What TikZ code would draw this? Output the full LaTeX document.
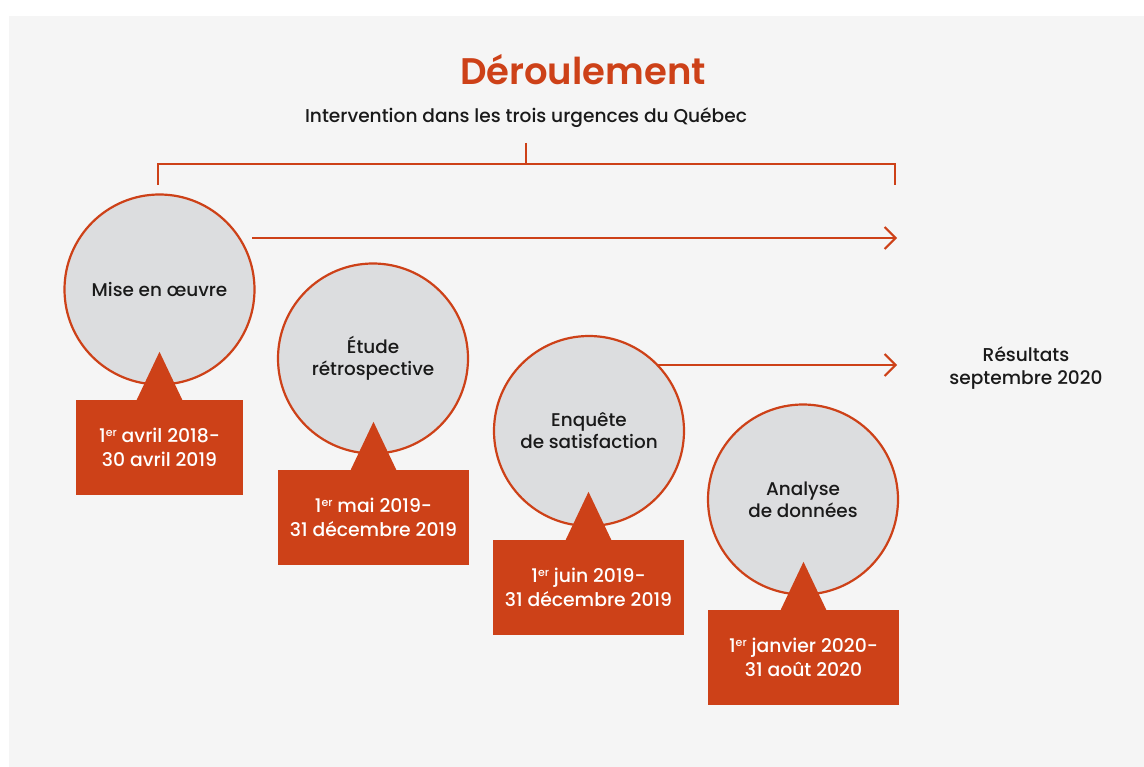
\documentclass[tikz,border=0pt]{standalone}
\usepackage{fontspec}
\setmainfont{Poppins Medium}[BoldFont=Poppins SemiBold]
\usetikzlibrary{arrows.meta}
\definecolor{rouille}{HTML}{CD4118}
\definecolor{panneau}{HTML}{F5F5F5}
\definecolor{disque}{HTML}{DCDDDF}
\definecolor{encre}{HTML}{1A1A1A}
\newcommand{\ieme}[1]{\raisebox{0.55ex}{\fontsize{11}{11}\selectfont #1}}
\tikzset{
  etape/.style={circle, draw=rouille, line width=2.2pt, fill=disque,
    minimum size=190pt, inner sep=0pt, align=center, text=encre,
    font=\fontsize{18.4}{22}\selectfont},
  periode/.style={rectangle, fill=rouille, inner sep=0pt, minimum height=95pt,
    align=center, text=white, font=\fontsize{18.8}{24}\selectfont},
  pointe/.style={fill=rouille, draw=none},
  trait/.style={draw=rouille, line width=2pt},
  fleche/.style={trait, -{Straight Barb[length=11pt, width=22pt, line width=2pt]}},
  legende/.style={align=center, text=encre, font=\fontsize{18.6}{23}\selectfont}
}
\begin{document}
\begin{tikzpicture}[x=1pt, y=-1pt]
  % canvas and panel
  \useasboundingbox (0,0) rectangle (1144,767);
  \fill[white] (0,0) rectangle (1144,767);
  \fill[panneau] (9,16) rectangle (1144,767);

  % headings
  \node[text=rouille, font=\fontsize{37}{40}\selectfont\bfseries] (titre) at (583,70) {Déroulement};
  \node[legende] (sous) at (526,117.5) {Intervention dans les trois urgences du Québec};

  % bracket spanning the intervention
  \coordinate (bg) at (158,185);
  \coordinate (bd) at (895,185);
  \coordinate (bm) at (526,143);
  \draw[trait] (bg) |- (bd |- 0,164) -- (bd);
  \draw[trait] (bm) -- (bm |- 0,164);

  % steps
  \node[etape] (c1) at (159.5,289.5) {Mise en œuvre};
  \node[etape] (c2) at (373,358.5) {Étude\\rétrospective};
  \node[etape] (c3) at (589,431) {Enquête\\de satisfaction};
  \node[etape] (c4) at (803,499.5) {Analyse\\de données};

  % periods
  \node[periode, minimum width=167pt] (b1) at (159.5,447.5) {1\ieme{er} avril 2018-\\30 avril 2019};
  \node[periode, minimum width=191pt] (b2) at (373.5,517.5) {1\ieme{er} mai 2019-\\31 décembre 2019};
  \node[periode, minimum width=191pt] (b3) at (588.5,587.5) {1\ieme{er} juin 2019-\\31 décembre 2019};
  \node[periode, minimum width=191pt] (b4) at (803.5,657.5) {1\ieme{er} janvier 2020-\\31 août 2020};

  % pointers from each period to its step
  \foreach \b/\x in {b1/159.5, b2/373.5, b3/588.5, b4/803.5}{
    \fill[pointe] (\x,0 |- \b.north) ++(-23,0.5) -- ++(23,-48.5) -- ++(23,48.5) -- cycle;
  }

  % result
  \node[legende] (res) at (1026,368.5) {Résultats\\septembre 2020};

  % arrows towards the results
  \coordinate (f1s) at (252,238);
  \coordinate (f1e) at (897,238);
  \coordinate (f2s) at (657,365);
  \coordinate (f2e) at (897,365);
  \draw[fleche] (f1s) -- (f1e);
  \draw[fleche] (f2s) -- (f2e);
\end{tikzpicture}
\end{document}
